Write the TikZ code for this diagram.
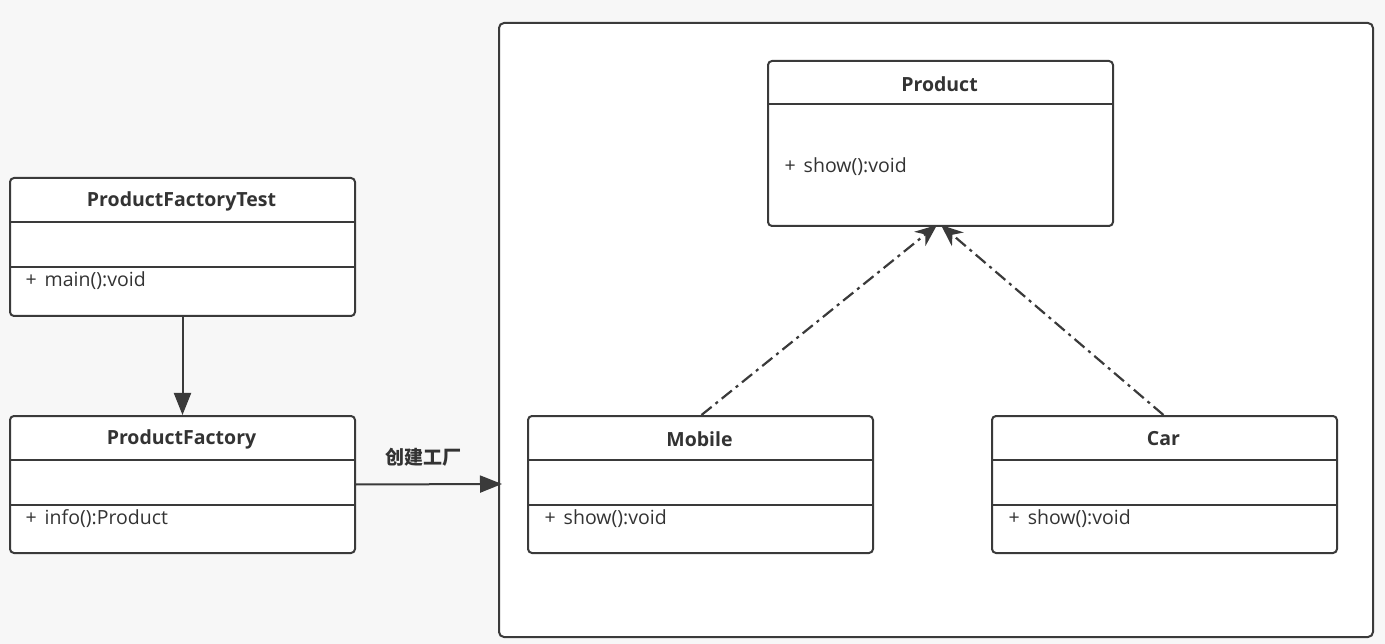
\documentclass[tikz,border=0pt]{standalone}
\usepackage{fontspec}
\setmainfont{Open Sans}
\newfontfamily\cjk{Noto Sans CJK SC}
\usetikzlibrary{arrows.meta}
\definecolor{bg}{HTML}{F7F7F7}
\definecolor{ln}{HTML}{3A3A3A}
\definecolor{tx}{HTML}{333333}
\tikzset{
  umlbox/.style={draw=ln, line width=2pt, fill=white, rounded corners=4pt, minimum width=345pt, anchor=north west, inner sep=0pt},
  ttl/.style={font=\fontsize{19.5}{22}\selectfont\bfseries, text=tx},
  mem/.style={font=\fontsize{19.5}{22}\selectfont, text=tx, anchor=west},
  sep/.style={draw=ln, line width=2pt},
  solidarrow/.style={draw=ln, line width=2pt, -{Triangle[length=22pt,width=17pt]}},
  realize/.style={draw=ln, line width=2.2pt, dash pattern=on 13pt off 5pt on 3pt off 5pt, -{Stealth[length=22pt,width=18pt,inset=7pt]}}
}
\begin{document}
\begin{tikzpicture}[x=1pt,y=-1pt]
\fill[bg] (0,0) rectangle (1385,644);
\useasboundingbox (0,0) rectangle (1385,644);
% container
\node[draw=ln, line width=2pt, fill=white, rounded corners=5pt, anchor=north west, minimum width=874pt, minimum height=614pt, inner sep=0pt] (cont) at (498,22) {};
% ProductFactoryTest
\node[umlbox, minimum height=138pt] (pft) at (9,177) {};
\draw[sep] (9,222) -- (354,222);
\draw[sep] (9,267) -- (354,267);
\node[ttl] (pftt) at (181.5,201) {ProductFactoryTest};
\node[mem] (pftm) at (22,281) {+\hspace{3pt} main():void};
% ProductFactory
\node[umlbox, minimum height=137pt] (pf) at (9,415) {};
\draw[sep] (9,460) -- (354,460);
\draw[sep] (9,505) -- (354,505);
\node[ttl] (pft2) at (181.5,439) {ProductFactory};
\node[mem] (pfm) at (22,519) {+\hspace{3pt} info():Product};
% Product
\node[umlbox, minimum height=165pt] (prod) at (767,60) {};
\draw[sep] (767,104) -- (1112,104);
\node[ttl] (prodt) at (939.5,84) {Product};
\node[mem] (prodm) at (781,167) {+\hspace{3pt} show():void};
% Mobile
\node[umlbox, minimum height=137pt] (mob) at (527,415) {};
\draw[sep] (527,460) -- (872,460);
\draw[sep] (527,505) -- (872,505);
\node[ttl] (mobt) at (699.5,439) {Mobile};
\node[mem] (mobm) at (541,519) {+\hspace{3pt} show():void};
% Car
\node[umlbox, minimum height=137pt] (car) at (991,415) {};
\draw[sep] (991,460) -- (1336,460);
\draw[sep] (991,505) -- (1336,505);
\node[ttl] (cart) at (1163.5,439) {Car};
\node[mem] (carm) at (1005,519) {+\hspace{3pt} show():void};
% arrows
\draw[solidarrow] (pft.south) -- (pf.north);
\coordinate (contin) at (502,484);
\draw[solidarrow] (pf.east) -- (contin);
\node[font=\cjk\fontsize{19}{22}\selectfont\bfseries, text=tx] (lbl) at (423,457) {创建工厂};
\coordinate (pl) at (937,225);
\coordinate (pr) at (941,225);
\draw[realize] ([xshift=1pt]mob.north) -- (pl);
\draw[realize] ([xshift=-1pt]car.north) -- (pr);
\end{tikzpicture}
\end{document}
